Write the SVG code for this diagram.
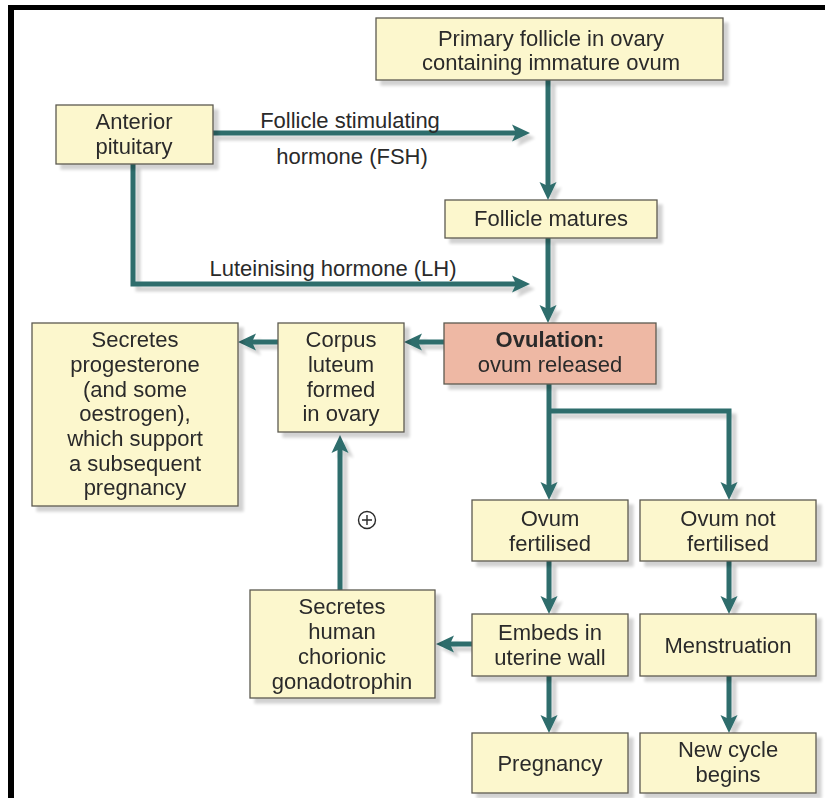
<svg xmlns="http://www.w3.org/2000/svg" width="825" height="798" viewBox="0 0 825 798">
<style>
.box{fill:#FCF7CD;stroke:#5c5a50;stroke-width:1.3}
.ovu{fill:#EEB8A4;stroke:#5c5a50;stroke-width:1.3}
text{font-family:"Liberation Sans",Arial,sans-serif;font-size:22px;fill:#2a2a2a;text-anchor:middle}
.b{font-weight:bold}
.con{fill:none;stroke:#2E6D6C;stroke-width:5}
</style>
<defs>
<filter id="sh" x="-10%" y="-10%" width="130%" height="130%">
<feGaussianBlur in="SourceAlpha" stdDeviation="1.5"/>
<feOffset dx="5" dy="5" result="o"/>
<feComponentTransfer><feFuncA type="linear" slope="0.18"/></feComponentTransfer>
<feMerge><feMergeNode/><feMergeNode in="SourceGraphic"/></feMerge>
</filter>
<marker id="ah" markerUnits="userSpaceOnUse" markerWidth="22" markerHeight="20" viewBox="-1 -10 22 20" refX="6" refY="0" orient="auto">
<path d="M0,-8.5 L18,0 L0,8.5 L4,0 Z" fill="#2E6D6C"/>
</marker>
</defs>
<rect x="0" y="0" width="825" height="798" fill="#fff"/>
<rect x="8" y="5" width="817" height="5" fill="#000"/>
<rect x="8" y="5" width="6" height="793" fill="#000"/>

<g id="connectors" filter="url(#sh)">
<path class="con" d="M548,80 V188" marker-end="url(#ah)"/>
<path class="con" d="M213,133 H518" marker-end="url(#ah)"/>
<path class="con" d="M133,164 V284 H518" marker-end="url(#ah)"/>
<path class="con" d="M548,238 V311" marker-end="url(#ah)"/>
<path class="con" d="M444,342 H416" marker-end="url(#ah)"/>
<path class="con" d="M278,342 H250" marker-end="url(#ah)"/>
<path class="con" d="M549,384 V488" marker-end="url(#ah)"/>
<path class="con" d="M549,411 H729 V488" marker-end="url(#ah)"/>
<path class="con" d="M549,561 V602" marker-end="url(#ah)"/>
<path class="con" d="M729,561 V602" marker-end="url(#ah)"/>
<path class="con" d="M472,644 H448" marker-end="url(#ah)"/>
<path class="con" d="M340,590 V447" marker-end="url(#ah)"/>
<path class="con" d="M549,676 V721" marker-end="url(#ah)"/>
<path class="con" d="M729,676 V721" marker-end="url(#ah)"/>
</g>

<g id="labels">
<text x="350" y="128">Follicle stimulating</text>
<text x="352" y="164">hormone (FSH)</text>
<text x="333" y="276">Luteinising hormone (LH)</text>
<g id="plus">
<circle cx="367" cy="520" r="8.5" fill="#fff" stroke="#2a2a2a" stroke-width="1.4"/>
<path d="M362,520 H372 M367,515 V525" stroke="#2a2a2a" stroke-width="1.4"/>
</g>
</g>

<g id="primary" filter="url(#sh)">
<rect class="box" x="376" y="18" width="347" height="62"/>
<text x="551" y="46">Primary follicle in ovary</text>
<text x="551" y="70">containing immature ovum</text>
</g>
<g id="anterior" filter="url(#sh)">
<rect class="box" x="56" y="105" width="157" height="59"/>
<text x="134" y="129">Anterior</text>
<text x="134" y="154">pituitary</text>
</g>
<g id="follicle-matures" filter="url(#sh)">
<rect class="box" x="445" y="200" width="212" height="38"/>
<text x="551" y="226">Follicle matures</text>
</g>
<g id="ovulation" filter="url(#sh)">
<rect class="ovu" x="444" y="323" width="212" height="61"/>
<text class="b" x="550" y="347">Ovulation:</text>
<text x="550" y="372">ovum released</text>
</g>
<g id="corpus" filter="url(#sh)">
<rect class="box" x="278" y="323" width="126" height="109"/>
<text x="341" y="347">Corpus</text>
<text x="341" y="372">luteum</text>
<text x="341" y="397">formed</text>
<text x="341" y="421">in ovary</text>
</g>
<g id="progesterone" filter="url(#sh)">
<rect class="box" x="32" y="323" width="206" height="183"/>
<text x="135" y="347">Secretes</text>
<text x="135" y="372">progesterone</text>
<text x="135" y="397">(and some</text>
<text x="135" y="421">oestrogen),</text>
<text x="135" y="446">which support</text>
<text x="135" y="471">a subsequent</text>
<text x="135" y="495">pregnancy</text>
</g>
<g id="fertilised" filter="url(#sh)">
<rect class="box" x="472" y="500" width="156" height="61"/>
<text x="550" y="526">Ovum</text>
<text x="550" y="551">fertilised</text>
</g>
<g id="not-fertilised" filter="url(#sh)">
<rect class="box" x="640" y="500" width="176" height="61"/>
<text x="728" y="526">Ovum not</text>
<text x="728" y="551">fertilised</text>
</g>
<g id="embeds" filter="url(#sh)">
<rect class="box" x="472" y="614" width="156" height="62"/>
<text x="550" y="640">Embeds in</text>
<text x="550" y="665">uterine wall</text>
</g>
<g id="menstruation" filter="url(#sh)">
<rect class="box" x="640" y="614" width="176" height="62"/>
<text x="728" y="653">Menstruation</text>
</g>
<g id="hcg" filter="url(#sh)">
<rect class="box" x="250" y="590" width="185" height="108"/>
<text x="342" y="614">Secretes</text>
<text x="342" y="639">human</text>
<text x="342" y="664">chorionic</text>
<text x="342" y="689">gonadotrophin</text>
</g>
<g id="pregnancy" filter="url(#sh)">
<rect class="box" x="472" y="733" width="156" height="60"/>
<text x="550" y="771">Pregnancy</text>
</g>
<g id="new-cycle" filter="url(#sh)">
<rect class="box" x="640" y="733" width="176" height="60"/>
<text x="728" y="757">New cycle</text>
<text x="728" y="782">begins</text>
</g>
</svg>
